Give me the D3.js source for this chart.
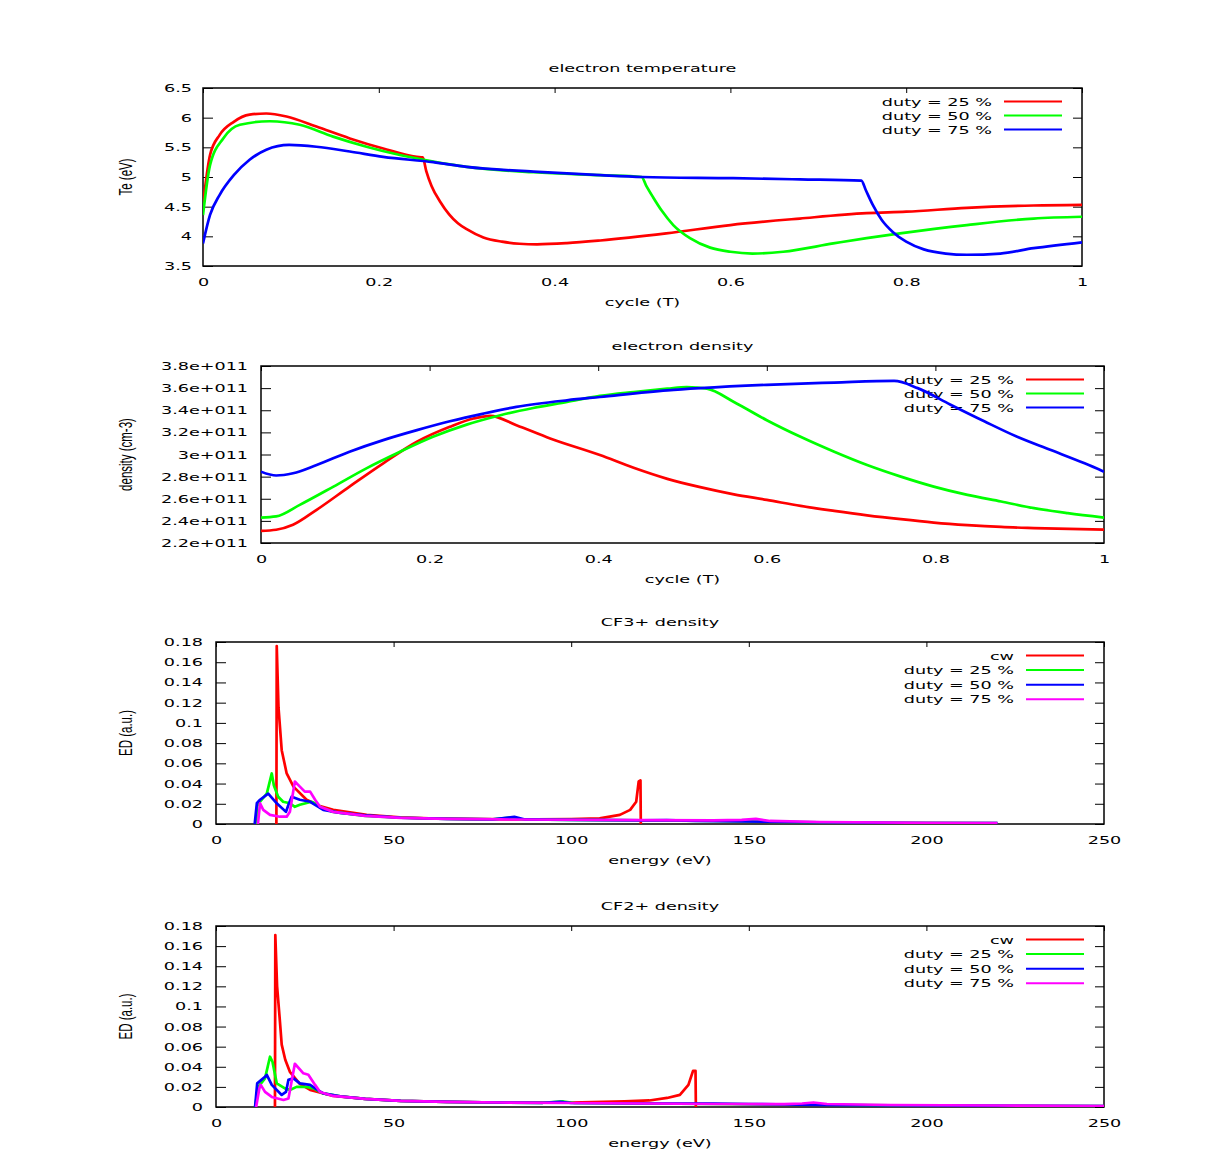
<!DOCTYPE html>
<html><head><meta charset="utf-8">
<script src="https://cdn.jsdelivr.net/npm/d3@7"></script>
<style>body{margin:0;background:#fff}</style>
</head><body><svg id="c" width="1221" height="1164"></svg>
<script>
// ---------- tick values / labels ----------
const cycleTicks = [0, 0.2, 0.4, 0.6, 0.8, 1];
const cycleTickLabels = ["0", "0.2", "0.4", "0.6", "0.8", "1"];
const teTicks = [3.5, 4, 4.5, 5, 5.5, 6, 6.5];
const teTickLabels = ["3.5", "4", "4.5", "5", "5.5", "6", "6.5"];
const densTicks = [2.2, 2.4, 2.6, 2.8, 3.0, 3.2, 3.4, 3.6, 3.8];
const densTickLabels = ["2.2e+011", "2.4e+011", "2.6e+011", "2.8e+011", "3e+011", "3.2e+011", "3.4e+011", "3.6e+011", "3.8e+011"];
const energyTicks = [0, 50, 100, 150, 200, 250];
const energyTickLabels = ["0", "50", "100", "150", "200", "250"];
const edTicks = [0, 0.02, 0.04, 0.06, 0.08, 0.1, 0.12, 0.14, 0.16, 0.18];
const edTickLabels = ["0", "0.02", "0.04", "0.06", "0.08", "0.1", "0.12", "0.14", "0.16", "0.18"];

const dutyNames = ["duty = 25 %", "duty = 50 %", "duty = 75 %"];
const ionNames = ["cw", "duty = 25 %", "duty = 50 %", "duty = 75 %"];

// ---------- electron temperature (cycle, Te eV) ----------
const teDuty25 = [[0,4.53],[0.008,5.37],[0.019,5.71],[0.035,5.93],[0.053,6.05],[0.072,6.07],[0.095,6.02],[0.129,5.85],[0.167,5.65],[0.205,5.48],[0.243,5.34],[0.25,5.33],[0.254,5.1],[0.26,4.85],[0.27,4.58],[0.28,4.37],[0.29,4.22],[0.3,4.12],[0.319,3.98],[0.34,3.91],[0.36,3.875],[0.38,3.865],[0.414,3.885],[0.452,3.93],[0.527,4.05],[0.6,4.19],[0.679,4.30],[0.755,4.39],[0.8,4.415],[0.869,4.48],[0.945,4.52],[1,4.53]];
const teDuty50 = [[0,4.36],[0.008,5.2],[0.023,5.65],[0.042,5.88],[0.076,5.94],[0.11,5.88],[0.148,5.68],[0.186,5.51],[0.224,5.37],[0.262,5.26],[0.3,5.17],[0.376,5.08],[0.452,5.03],[0.499,5.0],[0.504,4.86],[0.512,4.66],[0.522,4.43],[0.535,4.19],[0.554,3.97],[0.577,3.81],[0.6,3.74],[0.625,3.71],[0.66,3.74],[0.717,3.88],[0.755,3.97],[0.793,4.05],[0.869,4.19],[0.945,4.30],[1,4.33]];
const teDuty75 = [[0,3.88],[0.008,4.36],[0.019,4.70],[0.035,5.03],[0.053,5.29],[0.072,5.46],[0.098,5.54],[0.129,5.51],[0.167,5.43],[0.205,5.34],[0.262,5.25],[0.3,5.17],[0.376,5.09],[0.452,5.03],[0.5,5.0],[0.603,4.98],[0.679,4.96],[0.749,4.94],[0.754,4.78],[0.762,4.53],[0.772,4.28],[0.785,4.07],[0.8,3.91],[0.82,3.78],[0.845,3.71],[0.869,3.69],[0.907,3.71],[0.945,3.80],[1,3.90]];

// ---------- electron density (cycle, 1e11 cm-3) ----------
const neDuty25 = [[0,2.31],[0.018,2.32],[0.038,2.365],[0.066,2.50],[0.105,2.71],[0.145,2.92],[0.185,3.115],[0.224,3.25],[0.252,3.325],[0.272,3.35],[0.303,3.265],[0.343,3.145],[0.402,2.995],[0.442,2.88],[0.482,2.78],[0.521,2.705],[0.561,2.64],[0.6,2.59],[0.64,2.535],[0.68,2.49],[0.719,2.45],[0.759,2.415],[0.798,2.385],[0.838,2.362],[0.878,2.345],[0.917,2.335],[1,2.32]];
const neDuty50 = [[0,2.43],[0.018,2.44],[0.046,2.545],[0.086,2.71],[0.125,2.875],[0.165,3.025],[0.204,3.16],[0.244,3.27],[0.284,3.355],[0.323,3.42],[0.363,3.475],[0.402,3.53],[0.442,3.565],[0.482,3.595],[0.505,3.61],[0.529,3.595],[0.561,3.475],[0.6,3.31],[0.64,3.16],[0.68,3.025],[0.719,2.905],[0.759,2.80],[0.798,2.71],[0.838,2.635],[0.878,2.575],[0.917,2.515],[0.957,2.47],[1,2.43]];
const neDuty75 = [[0,2.845],[0.018,2.81],[0.038,2.83],[0.066,2.905],[0.105,3.025],[0.145,3.13],[0.185,3.22],[0.224,3.30],[0.264,3.37],[0.303,3.43],[0.363,3.49],[0.402,3.52],[0.482,3.58],[0.521,3.60],[0.6,3.63],[0.68,3.65],[0.751,3.665],[0.779,3.60],[0.818,3.45],[0.858,3.30],[0.897,3.16],[0.937,3.04],[0.977,2.92],[1,2.845]];

// ---------- CF3+ energy distribution (eV, a.u.) ----------
const cf3Cw = [[17.0,0],[17.1,0.176],[17.6,0.115],[18.5,0.073],[19.9,0.05],[21.8,0.037],[25.5,0.024],[29,0.018],[33,0.014],[42.4,0.009],[51.8,0.0066],[60,0.0055],[75,0.0048],[90,0.0045],[100,0.0048],[108,0.0055],[113.7,0.009],[116.6,0.014],[118.3,0.022],[119.0,0.042],[119.5,0.043],[119.6,0]];
const cf3Duty25 = [[11.3,0],[11.6,0.018],[12.4,0.022],[14.3,0.030],[15.7,0.050],[16.3,0.038],[17.5,0.027],[18.9,0.022],[20.8,0.0205],[22.2,0.017],[23.6,0.019],[26.9,0.022],[27.8,0.0205],[30.2,0.0155],[33,0.012],[42,0.008],[52,0.0062],[65,0.005],[78,0.0045],[83.7,0.0066],[86,0.0045],[100,0.004],[120,0.0035],[140,0.003],[160,0.002],[180,0.0015],[200,0.0012],[220,0.001]];
const cf3Duty50 = [[10.9,0],[11.5,0.0205],[12.4,0.024],[14.7,0.030],[17.1,0.0205],[19.7,0.012],[20.4,0.019],[21.3,0.027],[23.6,0.024],[26.5,0.022],[27.9,0.019],[30.2,0.014],[35,0.011],[42,0.0085],[52,0.0062],[65,0.005],[78,0.0045],[84,0.007],[87,0.0045],[100,0.004],[120,0.0035],[126.9,0.0038],[135,0.003],[160,0.002],[180,0.0015],[200,0.001],[220,0.001]];
const cf3Duty75 = [[11.8,0],[12.4,0.0205],[13.3,0.014],[15.2,0.009],[18,0.0072],[19.9,0.0072],[20.8,0.012],[22.2,0.042],[23.6,0.037],[25,0.032],[26.5,0.032],[27.9,0.024],[29.3,0.017],[33,0.012],[42,0.008],[52,0.006],[65,0.005],[80,0.0045],[100,0.0042],[120,0.0038],[140,0.0035],[148,0.004],[152,0.005],[156,0.003],[170,0.002],[200,0.0012],[220,0.001]];

// ---------- CF2+ energy distribution (eV, a.u.) ----------
const cf2Cw = [[16.6,0],[16.7,0.171],[17.2,0.12],[18,0.085],[18.5,0.062],[19.5,0.047],[20.8,0.035],[23.6,0.023],[26.5,0.017],[33,0.011],[42,0.008],[52,0.006],[65,0.005],[80,0.0045],[100,0.0045],[115,0.0055],[122,0.0065],[127,0.009],[130.6,0.012],[133,0.022],[134.3,0.036],[135,0.036],[135.1,0]];
const cf2Duty25 = [[11,0],[11.9,0.020],[13.8,0.0285],[15.2,0.050],[15.9,0.045],[17.1,0.0235],[19.4,0.0185],[20.8,0.017],[22.7,0.020],[25.5,0.020],[27.4,0.0185],[30.2,0.0135],[35,0.0105],[42,0.008],[52,0.006],[65,0.005],[80,0.0045],[92,0.0042],[97.8,0.0055],[101,0.004],[120,0.0035],[140,0.003],[160,0.0025],[180,0.002],[200,0.0015],[225,0.0012],[250,0.001]];
const cf2Duty50 = [[11,0],[11.6,0.0235],[13.8,0.030],[14.3,0.032],[15.7,0.022],[18.5,0.012],[19.7,0.015],[20.4,0.027],[21.8,0.0285],[23.6,0.0235],[26.5,0.022],[27.9,0.0185],[30.2,0.0135],[35,0.0105],[42,0.008],[52,0.006],[65,0.005],[80,0.0045],[92,0.0042],[97,0.0052],[100,0.004],[120,0.0035],[140,0.0035],[150,0.003],[170,0.002],[200,0.0015],[225,0.0012],[250,0.001]];
const cf2Duty75 = [[11.3,0],[12.2,0.0185],[12.6,0.022],[13.8,0.015],[15.7,0.010],[19,0.007],[20.4,0.0085],[22.2,0.043],[24.6,0.0335],[26,0.032],[27.9,0.022],[29.3,0.015],[33,0.011],[42,0.008],[52,0.006],[65,0.005],[80,0.0045],[100,0.004],[120,0.0035],[140,0.003],[160,0.0028],[165,0.0035],[168.2,0.0045],[172,0.003],[190,0.002],[220,0.0015],[250,0.001]];

const RED = "#ff0000", GREEN = "#00ff00", BLUE = "#0000ff", MAGENTA = "#ff00ff";
const S = 1.6;               // horizontal stretch of the original rendering
const FONT = "'DejaVu Sans', Verdana, sans-serif";
const FS = 11;

const svg = d3.select("#c");

function stext(g, x, y, str, anchor) {
  return g.append("text")
    .attr("transform", `translate(${x},${y}) scale(${S},1)`)
    .attr("text-anchor", anchor)
    .style("font-family", FONT).style("font-size", FS + "px").attr("fill", "#000")
    .text(str);
}

function panel(c) {
  const g = svg.append("g");
  const x = d3.scaleLinear().domain(c.xDomain).range([c.left, c.right]);
  const y = d3.scaleLinear().domain(c.yDomain).range([c.bottom, c.top]);
  const id = "clip" + Math.round(c.top);
  svg.append("clipPath").attr("id", id).append("rect")
    .attr("x", c.left).attr("y", c.top - 2).attr("width", c.right - c.left).attr("height", c.bottom - c.top + 2);

  const fmtY = d => c.yLabels[c.yTicks.indexOf(d)];
  const fmtX = d => c.xLabels[c.xTicks.indexOf(d)];
  const styleAxis = a => {
    a.select(".domain").remove();
    a.selectAll("line").attr("stroke", "#000").attr("stroke-width", 1);
    a.attr("font-family", null).attr("font-size", null);
  };
  const la = g.append("g").attr("transform", `translate(${c.left},0)`)
    .call(d3.axisLeft(y).tickValues(c.yTicks).tickFormat(fmtY).tickSize(-10).tickPadding(c.yPad));
  styleAxis(la);
  la.selectAll("text").each(function () {
    const t = d3.select(this);
    t.attr("x", (+t.attr("x")) / S).attr("transform", `scale(${S},1)`)
      .style("font-family", FONT).style("font-size", FS + "px").attr("fill", "#000");
  });
  const ra = g.append("g").attr("transform", `translate(${c.right},0)`)
    .call(d3.axisRight(y).tickValues(c.yTicks).tickFormat("").tickSize(-9));
  styleAxis(ra);
  const ta = g.append("g").attr("transform", `translate(0,${c.top})`)
    .call(d3.axisTop(x).tickValues(c.xTicks).tickFormat("").tickSize(-5));
  styleAxis(ta);
  const ba = g.append("g").attr("transform", `translate(0,${c.bottom})`)
    .call(d3.axisBottom(x).tickValues(c.xTicks).tickFormat(fmtX).tickSize(0).tickPadding(12));
  styleAxis(ba);
  ba.selectAll("text").attr("transform", `scale(${S},1)`)
    .style("font-family", FONT).style("font-size", FS + "px").attr("fill", "#000");

  g.append("rect").attr("x", c.left).attr("y", c.top)
    .attr("width", c.right - c.left).attr("height", c.bottom - c.top)
    .attr("fill", "none").attr("stroke", "#000").attr("stroke-width", 1.5);

  const cx = (c.left + c.right) / 2;
  stext(g, cx, c.top - 16, c.title, "middle");
  stext(g, cx, c.bottom + 40, c.xTitle, "middle");
  g.append("text")
    .attr("transform", `translate(127,${(c.top + c.bottom) / 2}) scale(${S},1) rotate(-90)`)
    .attr("text-anchor", "middle").attr("dominant-baseline", "middle")
    .style("font-family", "'Liberation Sans', Arial, sans-serif").style("font-size", "11.5px")
    .attr("fill", "#000").text(c.yTitle);

  c.series.forEach((s, i) => {
    const yy = c.top + 13.5 + i * c.keyStep;
    stext(g, c.right - 90, yy + 4, s.name, "end");
    g.append("line").attr("x1", c.right - 78).attr("x2", c.right - 20)
      .attr("y1", yy).attr("y2", yy).attr("stroke", s.color).attr("stroke-width", 2);
  });

  const line = d3.line().x(d => x(d[0])).y(d => y(d[1])).curve(c.curve);
  const lg = g.append("g").attr("clip-path", `url(#${id})`);
  c.series.forEach(s => {
    lg.append("path").datum(s.data).attr("d", line)
      .attr("fill", "none").attr("stroke", s.color).attr("stroke-width", 2.7)
      .attr("stroke-linejoin", "round");
  });
}

panel({
  left: 203, right: 1082, top: 88, bottom: 266, yPad: 11, keyStep: 14,
  xDomain: [0, 1], yDomain: [3.5, 6.5],
  xTicks: cycleTicks, xLabels: cycleTickLabels, yTicks: teTicks, yLabels: teTickLabels,
  title: "electron temperature", xTitle: "cycle (T)", yTitle: "Te (eV)",
  curve: d3.curveMonotoneX,
  series: [
    { name: dutyNames[0], color: RED, data: teDuty25 },
    { name: dutyNames[1], color: GREEN, data: teDuty50 },
    { name: dutyNames[2], color: BLUE, data: teDuty75 }]
});
panel({
  left: 261, right: 1104, top: 366, bottom: 543, yPad: 13, keyStep: 14,
  xDomain: [0, 1], yDomain: [2.2, 3.8],
  xTicks: cycleTicks, xLabels: cycleTickLabels, yTicks: densTicks, yLabels: densTickLabels,
  title: "electron density", xTitle: "cycle (T)", yTitle: "density (cm-3)",
  curve: d3.curveMonotoneX,
  series: [
    { name: dutyNames[0], color: RED, data: neDuty25 },
    { name: dutyNames[1], color: GREEN, data: neDuty50 },
    { name: dutyNames[2], color: BLUE, data: neDuty75 }]
});
panel({
  left: 216, right: 1104, top: 642, bottom: 824, yPad: 13, keyStep: 14.6,
  xDomain: [0, 250], yDomain: [0, 0.18],
  xTicks: energyTicks, xLabels: energyTickLabels, yTicks: edTicks, yLabels: edTickLabels,
  title: "CF3+ density", xTitle: "energy (eV)", yTitle: "ED (a.u.)",
  curve: d3.curveLinear,
  series: [
    { name: ionNames[0], color: RED, data: cf3Cw },
    { name: ionNames[1], color: GREEN, data: cf3Duty25 },
    { name: ionNames[2], color: BLUE, data: cf3Duty50 },
    { name: ionNames[3], color: MAGENTA, data: cf3Duty75 }]
});
panel({
  left: 216, right: 1104, top: 926, bottom: 1107, yPad: 13, keyStep: 14.6,
  xDomain: [0, 250], yDomain: [0, 0.18],
  xTicks: energyTicks, xLabels: energyTickLabels, yTicks: edTicks, yLabels: edTickLabels,
  title: "CF2+ density", xTitle: "energy (eV)", yTitle: "ED (a.u.)",
  curve: d3.curveLinear,
  series: [
    { name: ionNames[0], color: RED, data: cf2Cw },
    { name: ionNames[1], color: GREEN, data: cf2Duty25 },
    { name: ionNames[2], color: BLUE, data: cf2Duty50 },
    { name: ionNames[3], color: MAGENTA, data: cf2Duty75 }]
});
</script></body></html>
